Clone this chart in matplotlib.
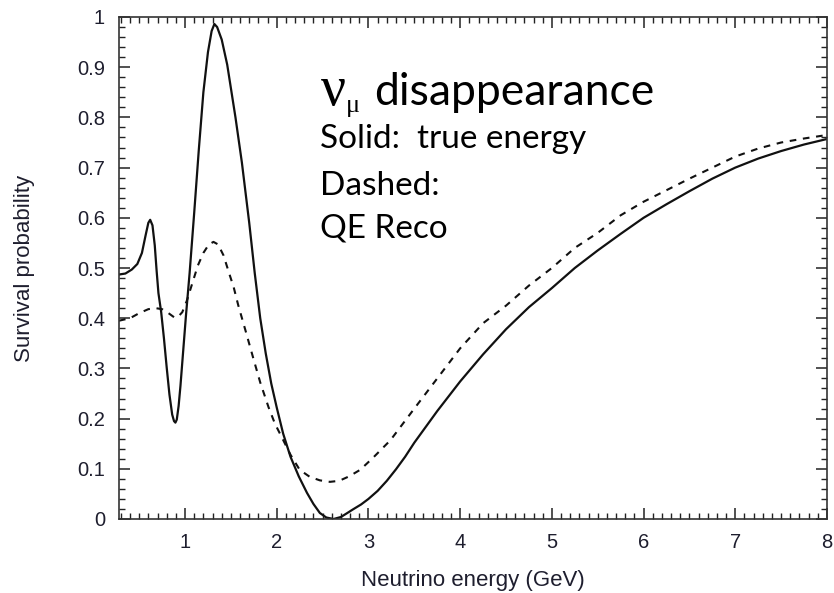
import numpy as np
import matplotlib
matplotlib.use("Agg")
import matplotlib.pyplot as plt
from matplotlib.ticker import MultipleLocator

# survival probability
true_E = [0.28, 0.35, 0.42, 0.48, 0.53, 0.57, 0.60, 0.62, 0.645, 0.67, 0.69, 0.71, 0.74, 0.77,
          0.80, 0.83, 0.86, 0.88, 0.895, 0.91, 0.93, 0.95, 0.98, 1.01, 1.05, 1.10, 1.15, 1.20,
          1.25, 1.29, 1.32, 1.35, 1.40, 1.46, 1.55, 1.62, 1.70, 1.76, 1.82, 1.88, 1.94, 2.00,
          2.07, 2.15, 2.24, 2.33, 2.40, 2.47, 2.54, 2.62, 2.70, 2.77, 2.83, 2.92, 3.0, 3.1,
          3.2, 3.3, 3.4, 3.5, 3.75, 4.0, 4.25, 4.5, 4.75, 5.0, 5.25, 5.5, 5.75, 6.0,
          6.25, 6.5, 6.75, 7.0, 7.25, 7.5, 7.75, 8.0]
true_P = [0.487, 0.489, 0.497, 0.508, 0.530, 0.565, 0.590, 0.596, 0.585, 0.545, 0.495, 0.450,
          0.412, 0.360, 0.302, 0.248, 0.208, 0.195, 0.192, 0.198, 0.225, 0.265, 0.335, 0.405,
          0.490, 0.610, 0.735, 0.850, 0.930, 0.972, 0.986, 0.980, 0.955, 0.905, 0.800, 0.710,
          0.590, 0.490, 0.400, 0.330, 0.270, 0.222, 0.170, 0.124, 0.085, 0.052, 0.030, 0.012,
          0.003, 0.000, 0.004, 0.012, 0.019, 0.029, 0.040, 0.056, 0.076, 0.099, 0.124, 0.152,
          0.215, 0.274, 0.328, 0.378, 0.422, 0.460, 0.500, 0.535, 0.568, 0.600, 0.627,
          0.653, 0.678, 0.700, 0.718, 0.733, 0.746, 0.757]

reco_E = [0.28, 0.40, 0.50, 0.60, 0.68, 0.75, 0.82, 0.88, 0.92, 0.97, 1.02, 1.08, 1.14,
          1.20, 1.26, 1.31, 1.36, 1.42, 1.48, 1.53, 1.58, 1.66, 1.74, 1.82, 1.91, 1.98, 2.06,
          2.15, 2.25, 2.36, 2.47, 2.58, 2.68, 2.79, 2.91, 3.05, 3.24, 3.5, 3.75, 4.0, 4.25,
          4.5, 4.75, 5.0, 5.25, 5.5, 5.75, 6.0, 6.25, 6.5, 6.75, 7.0, 7.25, 7.5, 7.75, 8.0]
reco_P = [0.395, 0.400, 0.410, 0.418, 0.420, 0.418, 0.410, 0.402, 0.402, 0.412, 0.435,
          0.470, 0.505, 0.530, 0.547, 0.552, 0.547, 0.525, 0.490, 0.462, 0.426, 0.375, 0.323,
          0.272, 0.223, 0.190, 0.161, 0.128, 0.098, 0.084, 0.077, 0.074, 0.076, 0.085, 0.098,
          0.122, 0.157, 0.220, 0.280, 0.340, 0.390, 0.425, 0.465, 0.500, 0.540, 0.570, 0.605,
          0.632, 0.655, 0.678, 0.700, 0.722, 0.738, 0.750, 0.758, 0.765]

W, H = 834, 593
fig = plt.figure(figsize=(W / 100, H / 100), dpi=100)
ax = fig.add_axes([119 / W, 1 - 519 / H, (827 - 119) / W, (519 - 17) / H])

ax.plot(true_E, true_P, color="#111111", lw=1.6)
ax.plot(reco_E, reco_P, color="#111111", lw=1.5, linestyle=(0, (3.2, 3.2)))

ax.set_xlim(0.28, 8)
ax.set_ylim(0, 1)
ax.xaxis.set_major_locator(MultipleLocator(1))
ax.xaxis.set_minor_locator(MultipleLocator(0.1))
ax.yaxis.set_major_locator(MultipleLocator(0.1))
ax.yaxis.set_minor_locator(MultipleLocator(0.02))
ax.set_yticks(np.arange(0, 1.01, 0.1))
ax.set_yticklabels(["0"] + ["%.1f" % v for v in np.arange(0.1, 0.95, 0.1)] + ["1"])

lab_font = dict(family="Liberation Sans", color="#1e1e2e")
ax.tick_params(which="both", direction="in", top=True, right=True, colors="#222222")
ax.tick_params(which="major", length=8, width=1.1, pad=10, labelsize=14.5, labelcolor="#1e1e2e")
ax.tick_params(which="minor", length=4, width=1.0)
for lbl in ax.get_xticklabels() + ax.get_yticklabels():
    lbl.set_family("Liberation Sans")
for sp in ax.spines.values():
    sp.set_linewidth(1.2)
    sp.set_color("#333333")

ax.set_xlabel("Neutrino energy (GeV)", fontsize=16, labelpad=13, **lab_font)
ax.set_ylabel("Survival probability", fontsize=16, labelpad=30, **lab_font)

# annotation text, placed by pixel position
def put(px, py, s, **kw):
    fig.text(px / W, 1 - py / H, s, va="baseline", ha="left", **kw)

put(321, 105, "ν", family="Liberation Serif", fontsize=40)
put(346, 112, "μ", family="Liberation Serif", fontsize=19)
put(374, 105, "disappearance", family="Lato", fontsize=32)
put(320, 148, "Solid:  true energy", family="Lato", fontsize=24)
put(320, 195, "Dashed:", family="Lato", fontsize=24)
put(320, 237, "QE Reco", family="Lato", fontsize=24)

fig.savefig("out.png", dpi=100)
